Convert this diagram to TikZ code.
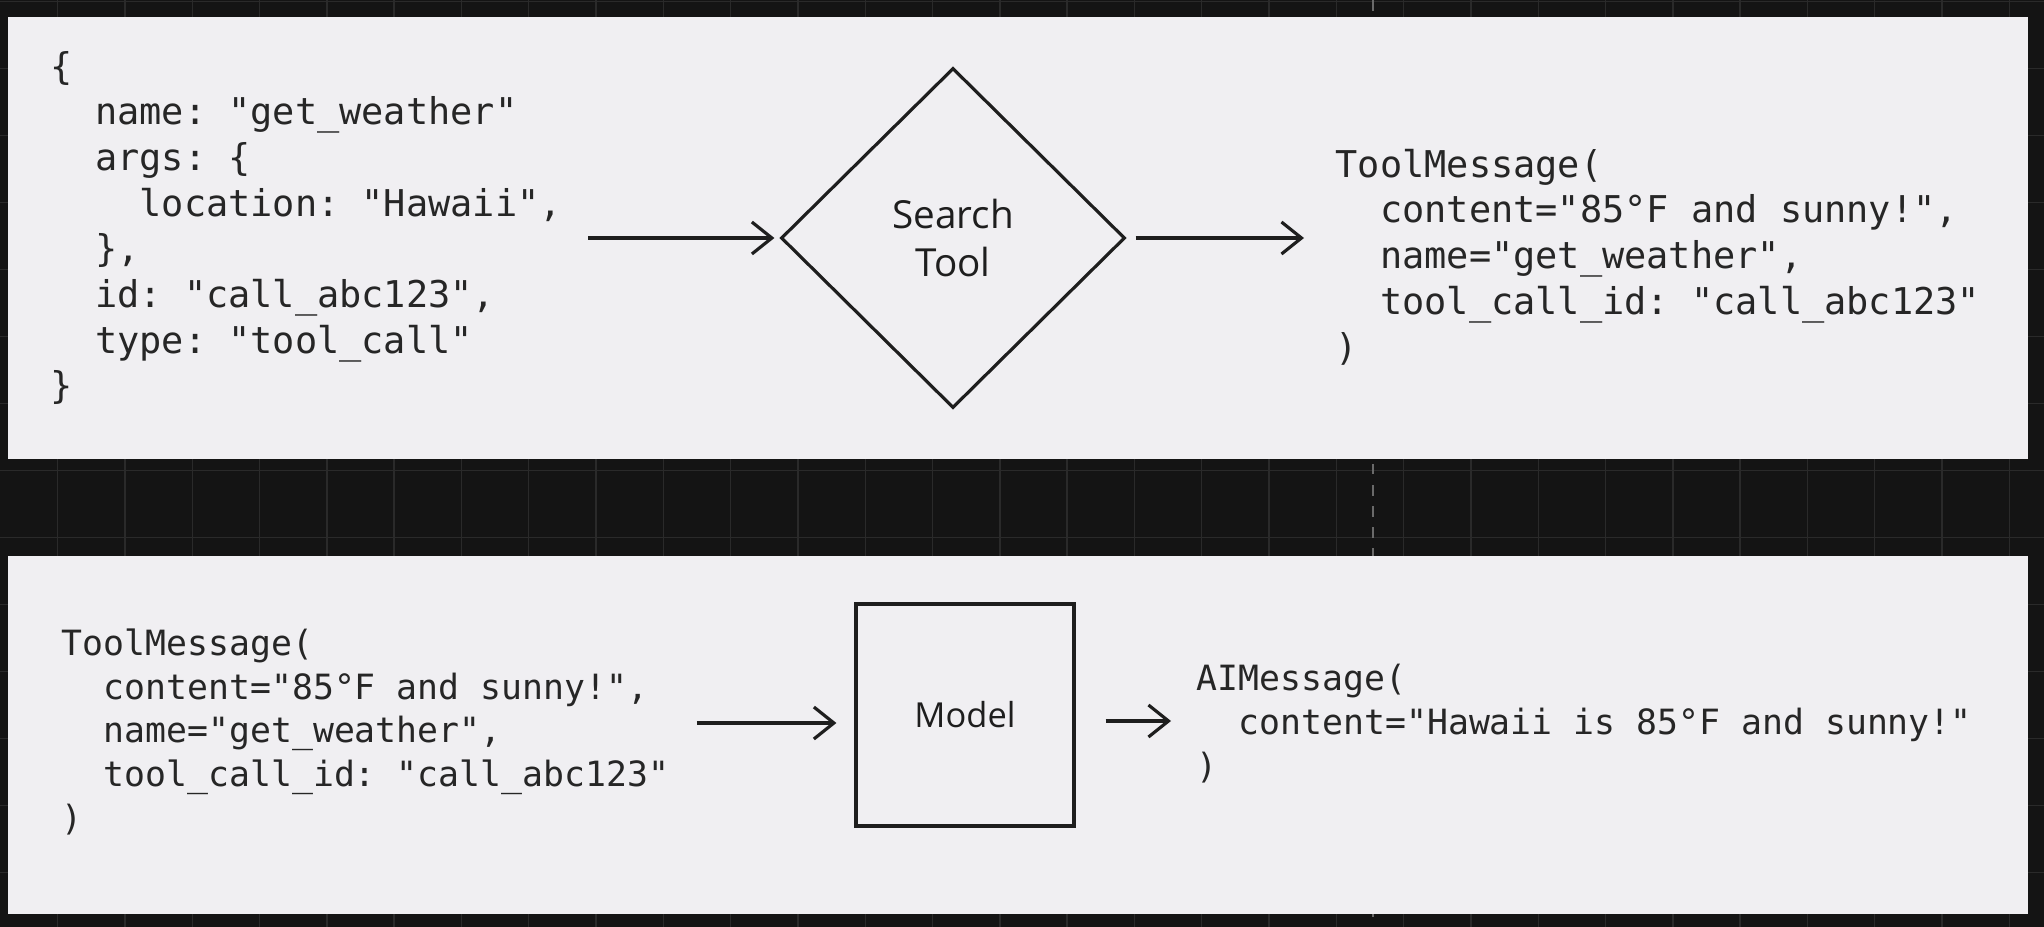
\documentclass[tikz,border=0pt]{standalone}
\usepackage{fontspec}
\setmonofont{DejaVu Sans Mono}
\newfontfamily\handfont{Open Sans}
\usetikzlibrary{shapes.geometric,arrows.meta,positioning}
\definecolor{canvas}{HTML}{141414}
\definecolor{gridline}{HTML}{2A2A2A}
\definecolor{panel}{HTML}{F0EFF2}
\definecolor{ink}{HTML}{1E1E1E}
\definecolor{codeink}{HTML}{262626}
\newcommand\ind{\hphantom{xx}}

\begin{document}
\begin{tikzpicture}[
    code/.style={align=left,anchor=base west,inner sep=0pt,text=codeink,font=\ttfamily\fontsize{10.5}{13}\selectfont},
    codesmall/.style={code,font=\ttfamily\fontsize{9.9}{12.4}\selectfont},
    arr/.style={-{Straight Barb[length=2mm,width=3.2mm]},line width=0.9pt,color=ink},
    hand/.style={font=\handfont\fontsize{11}{13.5}\selectfont,text=ink,align=center}]
  \useasboundingbox (0,0) rectangle (20.44,-9.27);
  % dark canvas with its grid
  \fill[canvas] (0,0) rectangle (20.44,-9.27);
  \foreach \x in {0,...,29} \draw[gridline] ({0.576+0.673*\x},0) -- ++(0,-9.27);
  \foreach \y in {0,...,13} \draw[gridline] (0,{-0.017-0.67*\y}) -- ++(20.44,0);
  \draw[gridline!70!white,dashed] (13.73,0) -- (13.73,-9.27);
  % the two panels
  \fill[panel] (0.08,-0.17) rectangle (20.28,-4.59);
  \fill[panel] (0.08,-5.56) rectangle (20.28,-9.14);

  % top: tool call -> search tool -> tool message
  % (base west sits on the last line of a code block)
  \node[code] (call) at (0.50,-3.99) {\{\\\ind name: "get\_weather"\\\ind args: \{\\\ind\ind location: "Hawaii",\\\ind \},\\\ind id: "call\_abc123",\\\ind type: "tool\_call"\\\}};
  \node[draw=ink,line width=0.9pt,diamond,aspect=1,minimum width=3.44cm,minimum height=3.40cm,inner sep=0pt,hand] (search) at (9.53,-2.38) {Search\\Tool};
  \node[code] (result) at (13.35,-3.60) {ToolMessage(\\\ind content="85°F and sunny!",\\\ind name="get\_weather",\\\ind tool\_call\_id: "call\_abc123"\\)};
  \draw[arr,shorten >=0.5mm] ([xshift=2.6mm]call.east |- search.west) -- (search.west);
  \draw[arr,shorten <=0.9mm,shorten >=3.1mm] (search.east) -- (result.west |- search.east);

  % bottom: tool message -> model -> ai message
  \node[codesmall] (toolin) at (0.61,-8.30) {ToolMessage(\\\ind content="85°F and sunny!",\\\ind name="get\_weather",\\\ind tool\_call\_id: "call\_abc123"\\)};
  \node[draw=ink,line width=0.9pt,minimum width=2.18cm,minimum height=2.22cm,hand,font=\handfont\fontsize{9.8}{12}\selectfont] (model) at (9.65,-7.15) {Model};
  \node[codesmall] (aimsg) at (11.96,-7.78) {AIMessage(\\\ind content="Hawaii is 85°F and sunny!"\\)};
  \draw[arr,shorten <=2.7mm,shorten >=1.8mm] ([yshift=-0.8mm]toolin.east |- model.west) -- ([yshift=-0.8mm]model.west);
  \draw[arr,shorten <=3mm,shorten >=2.5mm] ([yshift=-0.6mm]model.east) -- ([yshift=-0.6mm]aimsg.west |- model.east);
\end{tikzpicture}
\end{document}
